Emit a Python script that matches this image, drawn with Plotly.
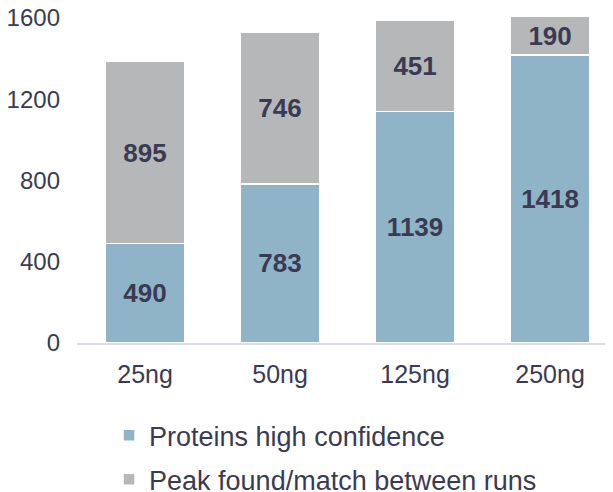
import plotly.graph_objects as go

categories = ["25ng", "50ng", "125ng", "250ng"]
high_conf = [490, 783, 1139, 1418]
peak_found = [895, 746, 451, 190]
y_ticks = [0, 400, 800, 1200, 1600]

BLUE = "#8fb4c8"
GRAY = "#b6b7b9"
TEXT = "#3a3b52"
FONT = "Liberation Sans, Arial, sans-serif"

fig = go.Figure()
fig.add_trace(go.Bar(
    x=categories, y=high_conf, name="Proteins high confidence",
    legendgroup="a",
    marker=dict(color=BLUE, line=dict(color="white", width=1.5)),
    text=[str(v) for v in high_conf], textposition="inside",
    insidetextanchor="middle", textangle=0,
    textfont=dict(family=FONT, size=26, color=TEXT, weight="bold"),
    width=0.59,
))
fig.add_trace(go.Bar(
    x=categories, y=peak_found, name="Peak found/match between runs",
    legendgroup="b",
    marker=dict(color=GRAY, line=dict(color="white", width=1.5)),
    text=[str(v) for v in peak_found], textposition="inside",
    insidetextanchor="middle", textangle=0,
    textfont=dict(family=FONT, size=26, color=TEXT, weight="bold"),
    width=0.59,
))

fig.update_layout(
    barmode="stack",
    width=605, height=484,
    margin=dict(l=69, r=0, t=8, b=149, autoexpand=False),
    plot_bgcolor="white", paper_bgcolor="white",
    font=dict(family=FONT, size=24, color=TEXT),
    uniformtext=dict(mode="show", minsize=10),
    xaxis=dict(
        type="category", range=[-0.504, 3.466],
        showline=True, linecolor="#dcdbe3", linewidth=2,
        ticks="", tickangle=0, ticklabelstandoff=8,
        ticklabeloverflow="allow",
        tickfont=dict(size=25, color=TEXT),
        showgrid=False, zeroline=False, automargin=False,
    ),
    yaxis=dict(
        range=[0, 1610], tickvals=y_ticks,
        showgrid=False, zeroline=False, showline=False,
        ticks="", ticklabelstandoff=16, automargin=False,
        ticklabeloverflow="allow",
        tickfont=dict(size=24, color=TEXT),
    ),
    legend=dict(
        orientation="v", traceorder="grouped", tracegroupgap=6,
        xref="container", yref="container",
        x=0.167, y=0.167, xanchor="left", yanchor="top",
        font=dict(size=27, color=TEXT),
        bgcolor="rgba(0,0,0,0)",
    ),
    showlegend=True,
)

fig.write_html("out.html")
